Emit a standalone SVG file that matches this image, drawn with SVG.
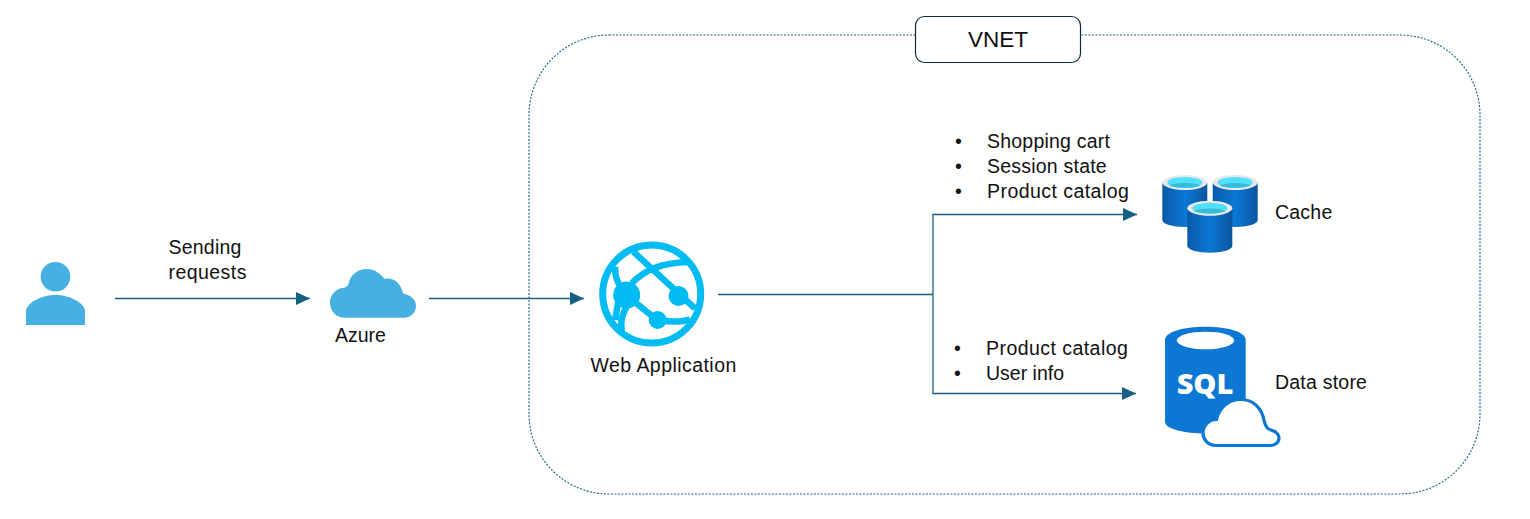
<svg xmlns="http://www.w3.org/2000/svg" width="1530" height="519" viewBox="0 0 1530 519">
<defs>
<linearGradient id="cyl" x1="0" x2="1" y1="0" y2="0"><stop offset="0" stop-color="#0a5aa8"/><stop offset="0.5" stop-color="#0c78d4"/><stop offset="1" stop-color="#0a55a0"/></linearGradient>
<marker id="arrow" markerUnits="userSpaceOnUse" markerWidth="15" markerHeight="14" refX="14" refY="6.5" orient="auto"><path d="M0 0L14 6.5L0 13Z" fill="#156082"/></marker>
<g id="db"><path d="M0 8V45C0 49 10 52 22.500 52S45 49 45 45V8Z" fill="url(#cyl)"/><ellipse cx="22.500" cy="7.500" rx="22.500" ry="7.500" fill="#e8e8e8"/><ellipse cx="22.500" cy="7.500" rx="17.500" ry="5.500" fill="#50e0ff"/><path d="M7 10.500C12 7 33 7 38 10.500C33 13.500 12 13.500 7 10.500Z" fill="#38bcd8"/></g>
</defs>
<style>
text{font-family:"Liberation Sans",Arial,sans-serif;font-size:19.500px;fill:#111;letter-spacing:.45px}
.t{letter-spacing:.22px}
.n{letter-spacing:0}
.c{fill:none;stroke:#156082;stroke-width:1.300}
.w{fill:#00bcf2}
.wl{fill:none;stroke:#00bcf2}
</style>
<g id="vnet-boundary"><rect x="529" y="35" width="951" height="459" rx="80" fill="none" stroke="#156082" stroke-width="1.100" stroke-dasharray="2 1.500"/></g>
<g id="vnet-label"><rect x="915.500" y="16.500" width="165" height="46" rx="9" fill="#fff" stroke="#0e2841" stroke-width="1.200"/><text class="n" x="998" y="47" text-anchor="middle" style="font-size:22.500px">VNET</text></g>
<g id="connectors">
<path class="c" d="M115 298.500H310" marker-end="url(#arrow)"/>
<path class="c" d="M429 298.500H584" marker-end="url(#arrow)"/>
<path class="c" d="M718 294.500H933"/>
<path class="c" d="M933 294.500V214.500H1137" marker-end="url(#arrow)"/>
<path class="c" d="M933 294.500V393.500H1136" marker-end="url(#arrow)"/>
</g>
<g id="user" fill="#47b0e2"><circle cx="55.500" cy="276.700" r="14.800"/><path d="M26 325V310C29 301 43 295 55.500 295S82 301 85 310V325Z"/></g>
<text class="t" x="168.500" y="254">Sending</text><text x="168.500" y="279">requests</text>
<g id="azure"><path fill="#47b0e2" d="M345 317.700C336 317.700 330 311 330 302.500C330 294 337 288 345 287.500C348 286 348 285 348.500 284C350 275 358 269 366.500 269C375 269 381 274 384.500 279C393 277 401 283 403 293.500C411 295 416 300 416 306C416 312.500 411 317.700 404 317.700Z"/><text class="n" x="335" y="342">Azure</text></g>
<g id="web-application">
<circle class="wl" cx="651.700" cy="294" r="49" stroke-width="7"/>
<circle class="w" cx="626.700" cy="295" r="13.500"/><circle class="w" cx="678.500" cy="296" r="10"/><circle class="w" cx="657.700" cy="320" r="9"/>
<path class="wl" stroke-width="6.500" d="M632 283C645 270 660 263 688 262M633.300 251.700L695 308.300M626 295L657 320C670 322 682 322 690 319.300M615 266.700C615 276 617 283 621.700 287M618.300 301.700L615 320M626.700 306.700C622 315 620 323 622 331"/>
<text x="590.500" y="372">Web Application</text></g>
<g id="list-cache"><text x="955" y="148">•</text><text class="t" x="987" y="148">Shopping cart</text><text x="955" y="173">•</text><text class="t" x="987" y="173">Session state</text><text x="955" y="198">•</text><text x="987" y="198">Product catalog</text></g>
<g id="cache"><use href="#db" x="1162.300" y="175"/><use href="#db" x="1212.700" y="175"/><use href="#db" x="1187.300" y="200.700"/><text class="t" x="1275" y="219">Cache</text></g>
<g id="list-store"><text x="954" y="355">•</text><text x="986" y="355">Product catalog</text><text x="954" y="380">•</text><text class="n" x="986" y="380">User info</text></g>
<g id="data-store">
<path fill="#0c78d4" d="M1165 340C1165 332 1183 326.700 1205.500 326.700S1245.700 332 1245.700 340V422C1245.700 429 1226 433.500 1205.500 433.500S1165 429 1165 422Z"/>
<ellipse cx="1205.500" cy="340.500" rx="28.700" ry="8.800" fill="#fff"/>
<text x="1205" y="394" text-anchor="middle" style="font-family:'Open Sans',sans-serif;font-weight:800;font-size:29px;fill:#fff;letter-spacing:0">SQL</text>
<path fill="#fff" stroke="#0c78d4" stroke-width="3.200" d="M1216 445.500C1208 445.500 1203 439.500 1203 433C1203 426 1208 420 1216.500 419.500C1219 408 1228 399.500 1241 399.500C1253 399.500 1262 408 1264 420.500C1266 428 1268 429 1271 430C1276 431.500 1279 434 1279 438C1279 442.500 1275 445.500 1270 445.500Z"/>
<text class="t" x="1275" y="389">Data store</text></g>
</svg>
